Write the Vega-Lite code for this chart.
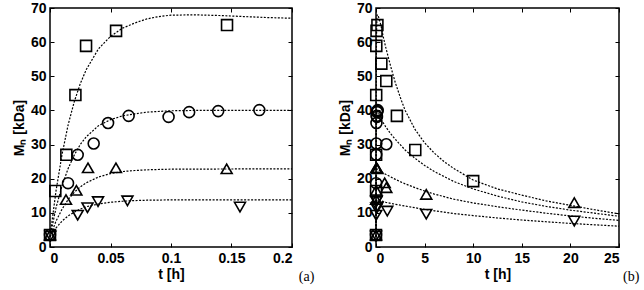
{
  "$schema": "https://vega.github.io/schema/vega-lite/v6.json",
  "padding": {"left": 11, "top": 0, "right": 0, "bottom": 0},
  "background": "white",
  "datasets": {
    "pa": [
      {"s": "sq", "t": 0, "M": 3.5}, {"s": "sq", "t": 0.0044, "M": 16.4}, {"s": "sq", "t": 0.0135, "M": 27.0}, {"s": "sq", "t": 0.021, "M": 44.5}, {"s": "sq", "t": 0.0298, "M": 58.9}, {"s": "sq", "t": 0.0546, "M": 63.3}, {"s": "sq", "t": 0.1463, "M": 65.0},
      {"s": "ci", "t": 0, "M": 3.5}, {"s": "ci", "t": 0.0149, "M": 18.7}, {"s": "ci", "t": 0.0229, "M": 27.0}, {"s": "ci", "t": 0.0361, "M": 30.3}, {"s": "ci", "t": 0.048, "M": 36.3}, {"s": "ci", "t": 0.065, "M": 38.4}, {"s": "ci", "t": 0.098, "M": 38.1}, {"s": "ci", "t": 0.115, "M": 39.5}, {"s": "ci", "t": 0.139, "M": 39.8}, {"s": "ci", "t": 0.173, "M": 40.1},
      {"s": "tu", "t": 0, "M": 3.5}, {"s": "tu", "t": 0.0132, "M": 13.9}, {"s": "tu", "t": 0.0218, "M": 16.6}, {"s": "tu", "t": 0.0314, "M": 23.2}, {"s": "tu", "t": 0.0545, "M": 23.2}, {"s": "tu", "t": 0.146, "M": 22.9},
      {"s": "td", "t": 0.0003, "M": 3.2}, {"s": "td", "t": 0.0229, "M": 9.3}, {"s": "td", "t": 0.031, "M": 11.5}, {"s": "td", "t": 0.0397, "M": 13.3}, {"s": "td", "t": 0.064, "M": 13.5}, {"s": "td", "t": 0.157, "M": 11.7}
    ],
    "ca": [
      {"s": "sq", "t": 0, "M": 3}, {"s": "sq", "t": 0.005, "M": 16.5}, {"s": "sq", "t": 0.01, "M": 27.2}, {"s": "sq", "t": 0.015, "M": 35.8}, {"s": "sq", "t": 0.02, "M": 42.5}, {"s": "sq", "t": 0.025, "M": 47.8}, {"s": "sq", "t": 0.03, "M": 52.0}, {"s": "sq", "t": 0.04, "M": 58.0}, {"s": "sq", "t": 0.05, "M": 61.7}, {"s": "sq", "t": 0.06, "M": 64.1}, {"s": "sq", "t": 0.07, "M": 65.6}, {"s": "sq", "t": 0.08, "M": 66.8}, {"s": "sq", "t": 0.09, "M": 67.5}, {"s": "sq", "t": 0.1, "M": 67.9}, {"s": "sq", "t": 0.12, "M": 68.0}, {"s": "sq", "t": 0.14, "M": 67.8}, {"s": "sq", "t": 0.16, "M": 67.5}, {"s": "sq", "t": 0.18, "M": 67.2}, {"s": "sq", "t": 0.2, "M": 67.0},
      {"s": "ci", "t": 0, "M": 3}, {"s": "ci", "t": 0.005, "M": 11.5}, {"s": "ci", "t": 0.01, "M": 18.0}, {"s": "ci", "t": 0.015, "M": 23.0}, {"s": "ci", "t": 0.02, "M": 26.9}, {"s": "ci", "t": 0.025, "M": 30.0}, {"s": "ci", "t": 0.03, "M": 32.3}, {"s": "ci", "t": 0.04, "M": 35.5}, {"s": "ci", "t": 0.05, "M": 37.3}, {"s": "ci", "t": 0.06, "M": 38.4}, {"s": "ci", "t": 0.07, "M": 39.0}, {"s": "ci", "t": 0.08, "M": 39.5}, {"s": "ci", "t": 0.1, "M": 39.9}, {"s": "ci", "t": 0.12, "M": 40.0}, {"s": "ci", "t": 0.2, "M": 40.0},
      {"s": "tu", "t": 0, "M": 3}, {"s": "tu", "t": 0.005, "M": 7.6}, {"s": "tu", "t": 0.01, "M": 11.1}, {"s": "tu", "t": 0.015, "M": 13.9}, {"s": "tu", "t": 0.02, "M": 16.0}, {"s": "tu", "t": 0.025, "M": 17.6}, {"s": "tu", "t": 0.03, "M": 18.8}, {"s": "tu", "t": 0.04, "M": 20.5}, {"s": "tu", "t": 0.05, "M": 21.5}, {"s": "tu", "t": 0.06, "M": 22.1}, {"s": "tu", "t": 0.07, "M": 22.4}, {"s": "tu", "t": 0.08, "M": 22.6}, {"s": "tu", "t": 0.1, "M": 22.8}, {"s": "tu", "t": 0.2, "M": 22.9},
      {"s": "td", "t": 0, "M": 3}, {"s": "td", "t": 0.005, "M": 5.6}, {"s": "td", "t": 0.01, "M": 7.6}, {"s": "td", "t": 0.015, "M": 9.1}, {"s": "td", "t": 0.02, "M": 10.2}, {"s": "td", "t": 0.025, "M": 11.1}, {"s": "td", "t": 0.03, "M": 11.8}, {"s": "td", "t": 0.04, "M": 12.6}, {"s": "td", "t": 0.05, "M": 13.1}, {"s": "td", "t": 0.06, "M": 13.4}, {"s": "td", "t": 0.07, "M": 13.6}, {"s": "td", "t": 0.08, "M": 13.7}, {"s": "td", "t": 0.1, "M": 13.8}, {"s": "td", "t": 0.2, "M": 13.8}
    ],
    "pb": [
      {"s": "sq", "t": 0, "M": 3.5}, {"s": "sq", "t": 0.0044, "M": 16.4}, {"s": "sq", "t": 0.0135, "M": 27.0}, {"s": "sq", "t": 0.021, "M": 44.5}, {"s": "sq", "t": 0.0298, "M": 58.9}, {"s": "sq", "t": 0.0546, "M": 63.3}, {"s": "sq", "t": 0.1463, "M": 65.0}, {"s": "sq", "t": 0.55, "M": 53.7}, {"s": "sq", "t": 1.06, "M": 48.6}, {"s": "sq", "t": 2.15, "M": 38.4}, {"s": "sq", "t": 4.04, "M": 28.4}, {"s": "sq", "t": 10.0, "M": 19.3},
      {"s": "ci", "t": 0, "M": 3.5}, {"s": "ci", "t": 0.0149, "M": 18.7}, {"s": "ci", "t": 0.0229, "M": 27.0}, {"s": "ci", "t": 0.0361, "M": 30.3}, {"s": "ci", "t": 0.048, "M": 36.3}, {"s": "ci", "t": 0.065, "M": 38.4}, {"s": "ci", "t": 0.098, "M": 38.1}, {"s": "ci", "t": 0.115, "M": 39.5}, {"s": "ci", "t": 0.139, "M": 39.8}, {"s": "ci", "t": 0.173, "M": 40.1}, {"s": "ci", "t": 1.06, "M": 30.1},
      {"s": "tu", "t": 0, "M": 3.5}, {"s": "tu", "t": 0.0132, "M": 13.9}, {"s": "tu", "t": 0.0218, "M": 16.6}, {"s": "tu", "t": 0.0314, "M": 23.2}, {"s": "tu", "t": 0.0545, "M": 23.2}, {"s": "tu", "t": 0.146, "M": 22.9}, {"s": "tu", "t": 0.89, "M": 18.8}, {"s": "tu", "t": 1.06, "M": 17.4}, {"s": "tu", "t": 5.17, "M": 15.4}, {"s": "tu", "t": 20.4, "M": 13.0},
      {"s": "td", "t": 0.0003, "M": 3.2}, {"s": "td", "t": 0.0229, "M": 9.3}, {"s": "td", "t": 0.031, "M": 11.5}, {"s": "td", "t": 0.0397, "M": 13.3}, {"s": "td", "t": 0.064, "M": 13.5}, {"s": "td", "t": 0.157, "M": 11.7}, {"s": "td", "t": 1.16, "M": 10.5}, {"s": "td", "t": 5.17, "M": 9.6}, {"s": "td", "t": 20.4, "M": 7.6}
    ],
    "cb": [
      {"s": "sq", "t": 0, "M": 3}, {"s": "sq", "t": 0.02, "M": 42.5}, {"s": "sq", "t": 0.05, "M": 61.7}, {"s": "sq", "t": 0.1, "M": 67.9}, {"s": "sq", "t": 0.2, "M": 68.0}, {"s": "sq", "t": 0.5, "M": 65.0}, {"s": "sq", "t": 0.75, "M": 61.5}, {"s": "sq", "t": 1, "M": 58.5}, {"s": "sq", "t": 1.5, "M": 53.0}, {"s": "sq", "t": 2, "M": 48.0}, {"s": "sq", "t": 2.6, "M": 43.0}, {"s": "sq", "t": 3, "M": 40.0}, {"s": "sq", "t": 4, "M": 34.5}, {"s": "sq", "t": 5, "M": 30.5}, {"s": "sq", "t": 6, "M": 27.5}, {"s": "sq", "t": 7, "M": 25.0}, {"s": "sq", "t": 8, "M": 23.0}, {"s": "sq", "t": 10, "M": 19.6}, {"s": "sq", "t": 12.5, "M": 17.0}, {"s": "sq", "t": 15, "M": 15.2}, {"s": "sq", "t": 17.5, "M": 13.5}, {"s": "sq", "t": 20, "M": 12.2}, {"s": "sq", "t": 22.5, "M": 10.9}, {"s": "sq", "t": 25, "M": 9.7},
      {"s": "ci", "t": 0, "M": 3}, {"s": "ci", "t": 0.02, "M": 26.9}, {"s": "ci", "t": 0.05, "M": 37.3}, {"s": "ci", "t": 0.1, "M": 39.9}, {"s": "ci", "t": 0.2, "M": 40.0}, {"s": "ci", "t": 0.5, "M": 37.5}, {"s": "ci", "t": 1, "M": 35.2}, {"s": "ci", "t": 1.5, "M": 33.2}, {"s": "ci", "t": 2, "M": 31.5}, {"s": "ci", "t": 3, "M": 28.4}, {"s": "ci", "t": 4, "M": 26.0}, {"s": "ci", "t": 5, "M": 23.9}, {"s": "ci", "t": 6, "M": 22.1}, {"s": "ci", "t": 8, "M": 19.2}, {"s": "ci", "t": 10, "M": 17.0}, {"s": "ci", "t": 12.5, "M": 14.9}, {"s": "ci", "t": 15, "M": 13.2}, {"s": "ci", "t": 17.5, "M": 11.9}, {"s": "ci", "t": 20, "M": 10.8}, {"s": "ci", "t": 22.5, "M": 9.9}, {"s": "ci", "t": 25, "M": 9.0},
      {"s": "tu", "t": 0, "M": 3}, {"s": "tu", "t": 0.02, "M": 16.0}, {"s": "tu", "t": 0.05, "M": 21.5}, {"s": "tu", "t": 0.1, "M": 22.8}, {"s": "tu", "t": 0.2, "M": 22.9}, {"s": "tu", "t": 0.5, "M": 22.1}, {"s": "tu", "t": 1, "M": 21.3}, {"s": "tu", "t": 2, "M": 19.8}, {"s": "tu", "t": 3, "M": 18.5}, {"s": "tu", "t": 4, "M": 17.4}, {"s": "tu", "t": 5, "M": 16.4}, {"s": "tu", "t": 6, "M": 15.5}, {"s": "tu", "t": 8, "M": 14.0}, {"s": "tu", "t": 10, "M": 12.9}, {"s": "tu", "t": 12.5, "M": 11.8}, {"s": "tu", "t": 15, "M": 10.8}, {"s": "tu", "t": 17.5, "M": 9.9}, {"s": "tu", "t": 20, "M": 9.1}, {"s": "tu", "t": 22.5, "M": 8.4}, {"s": "tu", "t": 25, "M": 7.8},
      {"s": "td", "t": 0, "M": 3}, {"s": "td", "t": 0.02, "M": 10.2}, {"s": "td", "t": 0.05, "M": 13.1}, {"s": "td", "t": 0.1, "M": 13.8}, {"s": "td", "t": 0.2, "M": 13.8}, {"s": "td", "t": 1, "M": 13.1}, {"s": "td", "t": 2, "M": 12.5}, {"s": "td", "t": 3, "M": 12.0}, {"s": "td", "t": 4, "M": 11.5}, {"s": "td", "t": 5, "M": 11.0}, {"s": "td", "t": 6, "M": 10.6}, {"s": "td", "t": 8, "M": 9.8}, {"s": "td", "t": 10, "M": 9.2}, {"s": "td", "t": 12.5, "M": 8.5}, {"s": "td", "t": 15, "M": 7.9}, {"s": "td", "t": 17.5, "M": 7.4}, {"s": "td", "t": 20, "M": 6.9}, {"s": "td", "t": 22.5, "M": 6.5}, {"s": "td", "t": 25, "M": 6.1}
    ]
  },
  "config": {
    "font": "Liberation Sans",
    "view": {"stroke": "black", "strokeWidth": 1.5},
    "axis": {
      "grid": false, "domain": false, "tickColor": "black", "tickSize": -4, "tickWidth": 1,
      "labelFont": "Liberation Sans", "labelFontWeight": "bold", "labelFontSize": 14, "labelColor": "black",
      "titleFont": "Liberation Sans", "titleFontWeight": "bold", "titleFontSize": 14, "titleColor": "black"
    },
    "axisX": {"labelPadding": 8, "titlePadding": 2},
    "axisY": {"labelPadding": 8, "titlePadding": 4}
  },
  "spacing": 21,
  "hconcat": [
    {
      "width": 242, "height": 239,
      "title": {"text": "(a)", "orient": "bottom", "anchor": "end", "font": "Liberation Serif", "fontSize": 14, "fontWeight": "normal", "color": "black", "dx": 20, "offset": -11},
      "resolve": {"axis": {"x": "independent", "y": "independent"}},
      "layer": [
        {
          "data": {"name": "ca"},
          "mark": {"type": "line", "color": "black", "strokeWidth": 1.2, "strokeDash": [2, 1.5]},
          "encoding": {
            "x": {"field": "t", "type": "quantitative", "scale": {"domain": [0, 0.2], "nice": false}, "axis": {"orient": "bottom", "values": [0, 0.05, 0.1, 0.15, 0.2], "format": "~g", "title": "t [h]"}},
            "y": {"field": "M", "type": "quantitative", "scale": {"domain": [0, 70], "nice": false}, "axis": {"orient": "left", "values": [0, 10, 20, 30, 40, 50, 60, 70], "title": "Mₙ [kDa]"}},
            "detail": {"field": "s"}
          }
        },
        {
          "data": {"name": "pa"},
          "mark": {"type": "point", "filled": false, "stroke": "black", "opacity": 1, "strokeWidth": 1.6, "size": 120},
          "encoding": {
            "x": {"field": "t", "type": "quantitative", "axis": null},
            "y": {"field": "M", "type": "quantitative", "axis": null},
            "shape": {"field": "s", "type": "nominal", "scale": {"domain": ["sq", "ci", "tu", "td"], "range": ["square", "circle", "triangle-up", "triangle-down"]}, "legend": null}
          }
        },
        {
          "data": {"name": "pa"},
          "mark": {"type": "point", "opacity": 0},
          "encoding": {
            "x": {"field": "t", "type": "quantitative", "axis": {"orient": "top", "values": [0, 0.05, 0.1, 0.15, 0.2], "labels": false, "title": null}},
            "y": {"field": "M", "type": "quantitative", "axis": {"orient": "right", "values": [0, 10, 20, 30, 40, 50, 60, 70], "labels": false, "title": null}}
          }
        }
      ]
    },
    {
      "width": 243, "height": 239,
      "title": {"text": "(b)", "orient": "bottom", "anchor": "end", "font": "Liberation Serif", "fontSize": 14, "fontWeight": "normal", "color": "black", "dx": 18, "offset": -11},
      "resolve": {"axis": {"x": "independent", "y": "independent"}},
      "layer": [
        {
          "data": {"name": "cb"},
          "mark": {"type": "line", "color": "black", "strokeWidth": 1.2, "strokeDash": [2, 1.5]},
          "encoding": {
            "x": {"field": "t", "type": "quantitative", "scale": {"domain": [0, 25], "nice": false}, "axis": {"orient": "bottom", "values": [0, 5, 10, 15, 20, 25], "title": "t [h]"}},
            "y": {"field": "M", "type": "quantitative", "scale": {"domain": [0, 70], "nice": false}, "axis": {"orient": "left", "values": [0, 10, 20, 30, 40, 50, 60, 70], "title": "Mₙ [kDa]"}},
            "detail": {"field": "s"}
          }
        },
        {
          "data": {"name": "pb"},
          "mark": {"type": "point", "filled": false, "stroke": "black", "opacity": 1, "strokeWidth": 1.6, "size": 120},
          "encoding": {
            "x": {"field": "t", "type": "quantitative", "axis": null},
            "y": {"field": "M", "type": "quantitative", "axis": null},
            "shape": {"field": "s", "type": "nominal", "scale": {"domain": ["sq", "ci", "tu", "td"], "range": ["square", "circle", "triangle-up", "triangle-down"]}, "legend": null}
          }
        },
        {
          "data": {"name": "pb"},
          "mark": {"type": "point", "opacity": 0},
          "encoding": {
            "x": {"field": "t", "type": "quantitative", "axis": {"orient": "top", "values": [0, 5, 10, 15, 20, 25], "labels": false, "title": null}},
            "y": {"field": "M", "type": "quantitative", "axis": {"orient": "right", "values": [0, 10, 20, 30, 40, 50, 60, 70], "labels": false, "title": null}}
          }
        }
      ]
    }
  ]
}
